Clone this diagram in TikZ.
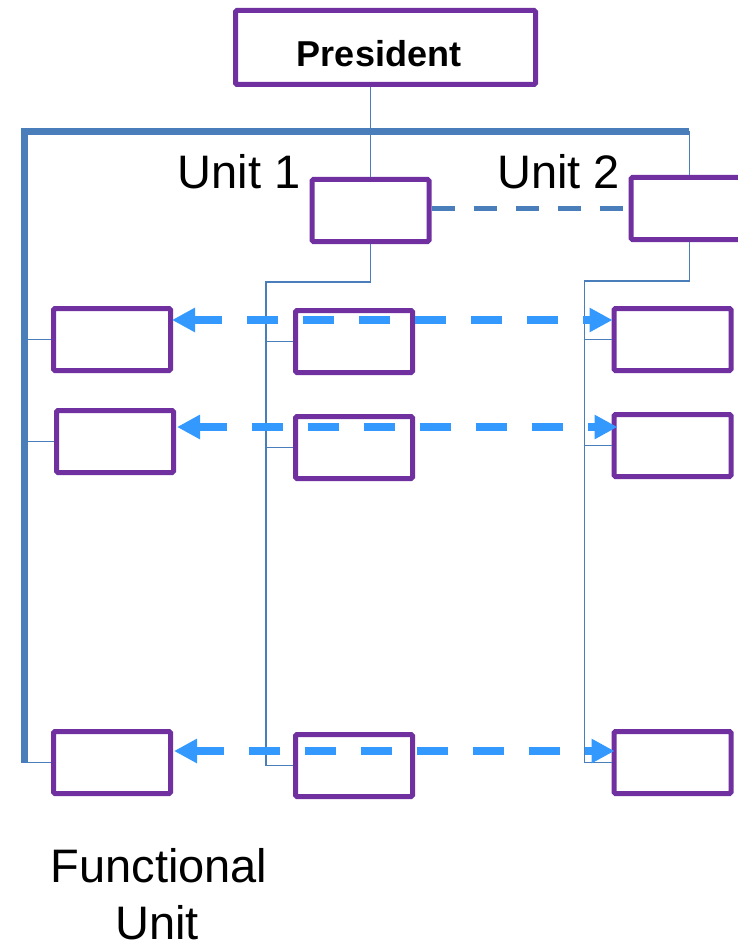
\documentclass[tikz,border=0pt]{standalone}
\usepackage{fontspec}
\setmainfont{Liberation Sans}
\usetikzlibrary{arrows.meta}
\definecolor{boxpurple}{HTML}{7030A0}
\definecolor{linkblue}{HTML}{4A7EBB}
\definecolor{flowblue}{HTML}{3399FF}

\begin{document}
\begin{tikzpicture}[x=1pt,y=-1pt,
  unitbox/.style={draw=boxpurple, line width=5pt, rounded corners=1.5pt,
    minimum width=117pt, minimum height=62pt, inner sep=0pt, fill=white},
  tree/.style={draw=linkblue, line width=1.8pt},
  spine/.style={draw=linkblue, line width=7pt},
  peer/.style={draw=linkblue, line width=5pt, dash pattern=on 23pt off 19pt},
  flow/.style={draw=flowblue, line width=8pt, dash pattern=on 31pt off 25pt,
    dash phase=3pt, >={Triangle[length=23pt,width=23pt]}, <->},
  lbl/.style={font=\fontsize{47}{56}\selectfont, anchor=base, inner sep=0pt}
]
\useasboundingbox (0,0) rectangle (738,944);
\clip (0,0) rectangle (738,944);

% top of the chart
\node[unitbox, minimum width=300pt, minimum height=74pt] (pres) at (385.5,47.5) {};
\node[font=\bfseries\fontsize{36}{43}\selectfont, anchor=base, inner sep=0pt]
  (prestext) at (379,67) {President};

% the two units
\node[unitbox] (u1) at (370.5,210.5) {};
\node[unitbox] (u2) at (689.5,208.5) {};
\node[lbl] (u1lbl) at (239,188) {Unit 1};
\node[lbl] (u2lbl) at (558.5,188) {Unit 2};

% functional column
\node[unitbox] (l1) at (112,339.5) {};
\node[unitbox] (l2) at (115,441.5) {};
\node[unitbox] (l3) at (112,762.5) {};

% unit 1 column
\node[unitbox] (m1) at (354,341.5) {};
\node[unitbox] (m2) at (354,447.5) {};
\node[unitbox] (m3) at (354,765.5) {};

% unit 2 column
\node[unitbox] (r1) at (672.5,339.5) {};
\node[unitbox] (r2) at (672.5,445.5) {};
\node[unitbox] (r3) at (672.5,762.5) {};

\node[lbl] (fulbl) at (159,882) {Functional};
\node[lbl] (fulbl2) at (157,939.5) {Unit};

% reporting lines
\coordinate (corner) at (24.5,131.5);
\coordinate (spineend) at (689,131.5);
\coordinate (t1) at (266,282);
\coordinate (t2) at (584.5,281);

\draw[tree] (u1.north |- pres.south) -- (u1.north);
\draw[spine] (l3.west -| corner) -- (corner) -- (spineend);
\draw[tree] (u2.north |- corner) -- (u2.north);
\draw[tree] (l1.west -| corner) -- (l1.west);
\draw[tree] (l2.west -| corner) -- (l2.west);
\draw[tree] (l3.west -| corner) -- (l3.west);

\draw[tree] (u1.south) |- (t1) -- (t1 |- m3.west) -- (m3.west);
\draw[tree] (m1.west -| t1) -- (m1.west);
\draw[tree] (m2.west -| t1) -- (m2.west);

\draw[tree] (u2.south) |- (t2) -- (t2 |- r3.west) -- (r3.west);
\draw[tree] (r1.west -| t2) -- (r1.west);
\draw[tree] (r2.west -| t2) -- (r2.west);

\draw[peer] (u2.west -| u1.east) -- (u2.west);

% coordination across the columns
\draw[flow] ([xshift=-1pt,yshift=19.5pt]l1.east) -- ([xshift=1pt,yshift=19.5pt]r1.west);
\draw[flow] ([xshift=1pt,yshift=14.5pt]l2.east) -- ([xshift=6pt,yshift=18.5pt]r2.west);
\draw[flow] ([xshift=1pt,yshift=11.5pt]l3.east) -- ([xshift=3pt,yshift=11.5pt]r3.west);
\end{tikzpicture}
\end{document}
